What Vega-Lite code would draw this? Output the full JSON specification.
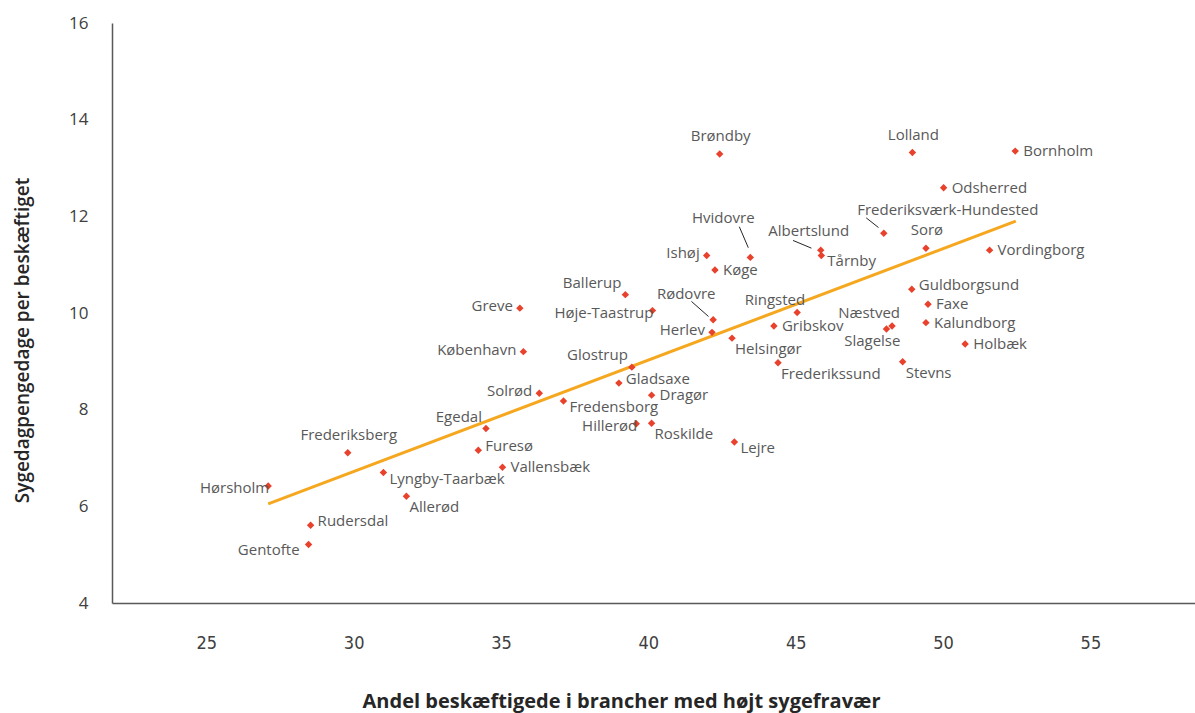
{
  "$schema": "https://vega.github.io/schema/vega-lite/v6.json",
  "width": 1083,
  "height": 580,
  "autosize": {"type": "none"},
  "padding": {"left": 112, "top": 23, "right": 0, "bottom": 110},
  "background": "white",
  "config": {"view": {"stroke": null}, "axis": {"grid": false}, "text": {"font": "Open Sans", "fontSize": 15, "color": "#595959", "baseline": "middle"}},
  "datasets": {
    "kommuner": [
      {"name": "Hørsholm", "x": 27.10, "y": 6.42, "pos": "leftOn"},
      {"name": "Frederiksberg", "x": 29.80, "y": 7.11, "pos": "above"},
      {"name": "Rudersdal", "x": 28.54, "y": 5.61, "pos": "rightHigh"},
      {"name": "Gentofte", "x": 28.47, "y": 5.21, "pos": "belowLeft"},
      {"name": "Lyngby-Taarbæk", "x": 31.01, "y": 6.70, "pos": "rightLow"},
      {"name": "Allerød", "x": 31.79, "y": 6.21, "pos": "below"},
      {"name": "Egedal", "x": 34.49, "y": 7.61, "pos": "aboveLeft"},
      {"name": "Furesø", "x": 34.23, "y": 7.16, "pos": "rightHigh"},
      {"name": "Vallensbæk", "x": 35.05, "y": 6.81, "pos": "right"},
      {"name": "Solrød", "x": 36.30, "y": 8.34, "pos": "left"},
      {"name": "Fredensborg", "x": 37.12, "y": 8.18, "pos": "rightLow"},
      {"name": "Greve", "x": 35.64, "y": 10.10, "pos": "left"},
      {"name": "København", "x": 35.76, "y": 9.20, "pos": "left"},
      {"name": "Ballerup", "x": 39.22, "y": 10.38, "pos": "aboveLeft"},
      {"name": "Høje-Taastrup", "x": 40.14, "y": 10.05, "pos": "leftOn"},
      {"name": "Glostrup", "x": 39.44, "y": 8.88, "pos": "aboveLeft"},
      {"name": "Gladsaxe", "x": 39.00, "y": 8.55, "pos": "rightHigh"},
      {"name": "Dragør", "x": 40.11, "y": 8.30, "pos": "right"},
      {"name": "Hillerød", "x": 39.59, "y": 7.71, "pos": "leftOn"},
      {"name": "Roskilde", "x": 40.11, "y": 7.72, "pos": "below"},
      {"name": "Lejre", "x": 42.92, "y": 7.33, "pos": "rightLow"},
      {"name": "Rødovre", "x": 42.20, "y": 9.86, "pos": "leadA"},
      {"name": "Herlev", "x": 42.16, "y": 9.60, "pos": "left"},
      {"name": "Helsingør", "x": 42.84, "y": 9.48, "pos": "below"},
      {"name": "Frederikssund", "x": 44.40, "y": 8.97, "pos": "below"},
      {"name": "Ringsted", "x": 45.05, "y": 10.01, "pos": "aboveSpan"},
      {"name": "Gribskov", "x": 44.26, "y": 9.73, "pos": "right"},
      {"name": "Brøndby", "x": 42.42, "y": 13.29, "pos": "above"},
      {"name": "Hvidovre", "x": 43.46, "y": 11.15, "pos": "leadB"},
      {"name": "Ishøj", "x": 41.98, "y": 11.19, "pos": "left"},
      {"name": "Køge", "x": 42.26, "y": 10.89, "pos": "right"},
      {"name": "Albertslund", "x": 45.85, "y": 11.30, "pos": "leadC"},
      {"name": "Tårnby", "x": 45.87, "y": 11.19, "pos": "rightLow"},
      {"name": "Frederiksværk-Hundested", "x": 47.99, "y": 11.65, "pos": "leadD"},
      {"name": "Sorø", "x": 49.42, "y": 11.34, "pos": "above"},
      {"name": "Lolland", "x": 48.96, "y": 13.32, "pos": "above"},
      {"name": "Bornholm", "x": 52.45, "y": 13.35, "pos": "right"},
      {"name": "Odsherred", "x": 50.02, "y": 12.59, "pos": "right"},
      {"name": "Vordingborg", "x": 51.58, "y": 11.30, "pos": "right"},
      {"name": "Guldborgsund", "x": 48.94, "y": 10.49, "pos": "rightHigh"},
      {"name": "Faxe", "x": 49.49, "y": 10.18, "pos": "right"},
      {"name": "Kalundborg", "x": 49.42, "y": 9.80, "pos": "right"},
      {"name": "Holbæk", "x": 50.75, "y": 9.36, "pos": "right"},
      {"name": "Næstved", "x": 48.27, "y": 9.73, "pos": "aboveSpan"},
      {"name": "Slagelse", "x": 48.08, "y": 9.67, "pos": "belowSpan"},
      {"name": "Stevns", "x": 48.63, "y": 8.99, "pos": "below"}
    ],
    "trend": [
      {"x": 27.10, "y": 6.05},
      {"x": 52.47, "y": 11.90}
    ]
  },
  "layer": [
    {
      "data": {"name": "trend"},
      "mark": {"type": "line", "color": "#F5A81F", "strokeWidth": 3},
      "encoding": {
        "x": {
          "field": "x", "type": "quantitative",
          "scale": {"domain": [21.8, 58.55], "nice": false, "zero": false},
          "axis": {
            "title": "Andel beskæftigede i brancher med højt sygefravær",
            "values": [25, 30, 35, 40, 45, 50, 55],
            "ticks": false,
            "domainColor": "#595959",
            "domainWidth": 1.5,
            "labelFont": "DejaVu Sans Condensed, DejaVu Sans",
            "labelFontSize": 18,
            "labelColor": "#404040",
            "labelBaseline": "middle",
            "labelPadding": 40,
            "titleFont": "Open Sans",
            "titleFontSize": 20,
            "titleFontWeight": "bold",
            "titleColor": "#262626",
            "titleX": 509,
            "titleY": 98,
            "titleAlign": "center",
            "titleBaseline": "middle"
          }
        },
        "y": {
          "field": "y", "type": "quantitative",
          "scale": {"domain": [4, 16], "nice": false, "zero": false},
          "axis": {
            "title": "Sygedagpengedage per beskæftiget",
            "values": [4, 6, 8, 10, 12, 14, 16],
            "ticks": false,
            "domainColor": "#595959",
            "domainWidth": 1.5,
            "labelFont": "Open Sans",
            "labelFontSize": 17,
            "labelColor": "#404040",
            "labelPadding": 24,
            "titleFont": "Open Sans",
            "titleFontSize": 19,
            "titleFontWeight": 600,
            "titleColor": "#262626",
            "titleX": -90,
            "titleY": 317,
            "titleAngle": -90,
            "titleAlign": "center",
            "titleBaseline": "middle"
          }
        }
      }
    },
    {
      "data": {"name": "kommuner"},
      "mark": {"type": "point", "shape": "diamond", "filled": true, "color": "#E8412C", "opacity": 1, "size": 55},
      "encoding": {
        "x": {"field": "x", "type": "quantitative"},
        "y": {"field": "y", "type": "quantitative"}
      }
    },
    {
      "data": {"name": "kommuner"},
      "transform": [{"filter": "datum.pos === 'leadA'"}],
      "mark": {"type": "rule", "color": "#262626", "strokeWidth": 1, "xOffset": -4.7, "yOffset": -3.3, "x2Offset": -21.7, "y2Offset": -18.3},
      "encoding": {
        "x": {"field": "x", "type": "quantitative"}, "y": {"field": "y", "type": "quantitative"},
        "x2": {"field": "x"}, "y2": {"field": "y"}
      }
    },
    {
      "data": {"name": "kommuner"},
      "transform": [{"filter": "datum.pos === 'leadB'"}],
      "mark": {"type": "rule", "color": "#262626", "strokeWidth": 1, "xOffset": -2, "yOffset": -9.7, "x2Offset": -11, "y2Offset": -30.7},
      "encoding": {
        "x": {"field": "x", "type": "quantitative"}, "y": {"field": "y", "type": "quantitative"},
        "x2": {"field": "x"}, "y2": {"field": "y"}
      }
    },
    {
      "data": {"name": "kommuner"},
      "transform": [{"filter": "datum.pos === 'leadC'"}],
      "mark": {"type": "rule", "color": "#262626", "strokeWidth": 1, "xOffset": -9.3, "yOffset": -2, "x2Offset": -27.7, "y2Offset": -9.7},
      "encoding": {
        "x": {"field": "x", "type": "quantitative"}, "y": {"field": "y", "type": "quantitative"},
        "x2": {"field": "x"}, "y2": {"field": "y"}
      }
    },
    {
      "data": {"name": "kommuner"},
      "transform": [{"filter": "datum.pos === 'leadD'"}],
      "mark": {"type": "rule", "color": "#262626", "strokeWidth": 1, "xOffset": -5.3, "yOffset": -5.7, "x2Offset": -17.6, "y2Offset": -15.4},
      "encoding": {
        "x": {"field": "x", "type": "quantitative"}, "y": {"field": "y", "type": "quantitative"},
        "x2": {"field": "x"}, "y2": {"field": "y"}
      }
    },
    {
      "data": {"name": "kommuner"},
      "transform": [{"filter": "datum.pos === 'right'"}],
      "mark": {"type": "text", "align": "left", "dx": 8, "dy": 0},
      "encoding": {"x": {"field": "x", "type": "quantitative"}, "y": {"field": "y", "type": "quantitative"}, "text": {"field": "name"}}
    },
    {
      "data": {"name": "kommuner"},
      "transform": [{"filter": "datum.pos === 'rightLow'"}],
      "mark": {"type": "text", "align": "left", "dx": 6, "dy": 6},
      "encoding": {"x": {"field": "x", "type": "quantitative"}, "y": {"field": "y", "type": "quantitative"}, "text": {"field": "name"}}
    },
    {
      "data": {"name": "kommuner"},
      "transform": [{"filter": "datum.pos === 'rightHigh'"}],
      "mark": {"type": "text", "align": "left", "dx": 7, "dy": -4},
      "encoding": {"x": {"field": "x", "type": "quantitative"}, "y": {"field": "y", "type": "quantitative"}, "text": {"field": "name"}}
    },
    {
      "data": {"name": "kommuner"},
      "transform": [{"filter": "datum.pos === 'below'"}],
      "mark": {"type": "text", "align": "left", "dx": 3, "dy": 11},
      "encoding": {"x": {"field": "x", "type": "quantitative"}, "y": {"field": "y", "type": "quantitative"}, "text": {"field": "name"}}
    },
    {
      "data": {"name": "kommuner"},
      "transform": [{"filter": "datum.pos === 'left'"}],
      "mark": {"type": "text", "align": "right", "dx": -7, "dy": -2},
      "encoding": {"x": {"field": "x", "type": "quantitative"}, "y": {"field": "y", "type": "quantitative"}, "text": {"field": "name"}}
    },
    {
      "data": {"name": "kommuner"},
      "transform": [{"filter": "datum.pos === 'leftOn'"}],
      "mark": {"type": "text", "align": "right", "dx": 1, "dy": 2},
      "encoding": {"x": {"field": "x", "type": "quantitative"}, "y": {"field": "y", "type": "quantitative"}, "text": {"field": "name"}}
    },
    {
      "data": {"name": "kommuner"},
      "transform": [{"filter": "datum.pos === 'above'"}],
      "mark": {"type": "text", "align": "center", "dx": 1, "dy": -18},
      "encoding": {"x": {"field": "x", "type": "quantitative"}, "y": {"field": "y", "type": "quantitative"}, "text": {"field": "name"}}
    },
    {
      "data": {"name": "kommuner"},
      "transform": [{"filter": "datum.pos === 'aboveLeft'"}],
      "mark": {"type": "text", "align": "right", "dx": -4, "dy": -12},
      "encoding": {"x": {"field": "x", "type": "quantitative"}, "y": {"field": "y", "type": "quantitative"}, "text": {"field": "name"}}
    },
    {
      "data": {"name": "kommuner"},
      "transform": [{"filter": "datum.pos === 'aboveSpan'"}],
      "mark": {"type": "text", "align": "right", "dx": 8, "dy": -13},
      "encoding": {"x": {"field": "x", "type": "quantitative"}, "y": {"field": "y", "type": "quantitative"}, "text": {"field": "name"}}
    },
    {
      "data": {"name": "kommuner"},
      "transform": [{"filter": "datum.pos === 'belowLeft'"}],
      "mark": {"type": "text", "align": "right", "dx": -9, "dy": 5},
      "encoding": {"x": {"field": "x", "type": "quantitative"}, "y": {"field": "y", "type": "quantitative"}, "text": {"field": "name"}}
    },
    {
      "data": {"name": "kommuner"},
      "transform": [{"filter": "datum.pos === 'belowSpan'"}],
      "mark": {"type": "text", "align": "right", "dx": 14, "dy": 12},
      "encoding": {"x": {"field": "x", "type": "quantitative"}, "y": {"field": "y", "type": "quantitative"}, "text": {"field": "name"}}
    },
    {
      "data": {"name": "kommuner"},
      "transform": [{"filter": "datum.pos === 'leadA'"}],
      "mark": {"type": "text", "align": "center", "dx": -27, "dy": -26},
      "encoding": {"x": {"field": "x", "type": "quantitative"}, "y": {"field": "y", "type": "quantitative"}, "text": {"field": "name"}}
    },
    {
      "data": {"name": "kommuner"},
      "transform": [{"filter": "datum.pos === 'leadB'"}],
      "mark": {"type": "text", "align": "center", "dx": -27, "dy": -39},
      "encoding": {"x": {"field": "x", "type": "quantitative"}, "y": {"field": "y", "type": "quantitative"}, "text": {"field": "name"}}
    },
    {
      "data": {"name": "kommuner"},
      "transform": [{"filter": "datum.pos === 'leadC'"}],
      "mark": {"type": "text", "align": "center", "dx": -12, "dy": -19},
      "encoding": {"x": {"field": "x", "type": "quantitative"}, "y": {"field": "y", "type": "quantitative"}, "text": {"field": "name"}}
    },
    {
      "data": {"name": "kommuner"},
      "transform": [{"filter": "datum.pos === 'leadD'"}],
      "mark": {"type": "text", "align": "center", "dx": 64, "dy": -23},
      "encoding": {"x": {"field": "x", "type": "quantitative"}, "y": {"field": "y", "type": "quantitative"}, "text": {"field": "name"}}
    }
  ]
}
